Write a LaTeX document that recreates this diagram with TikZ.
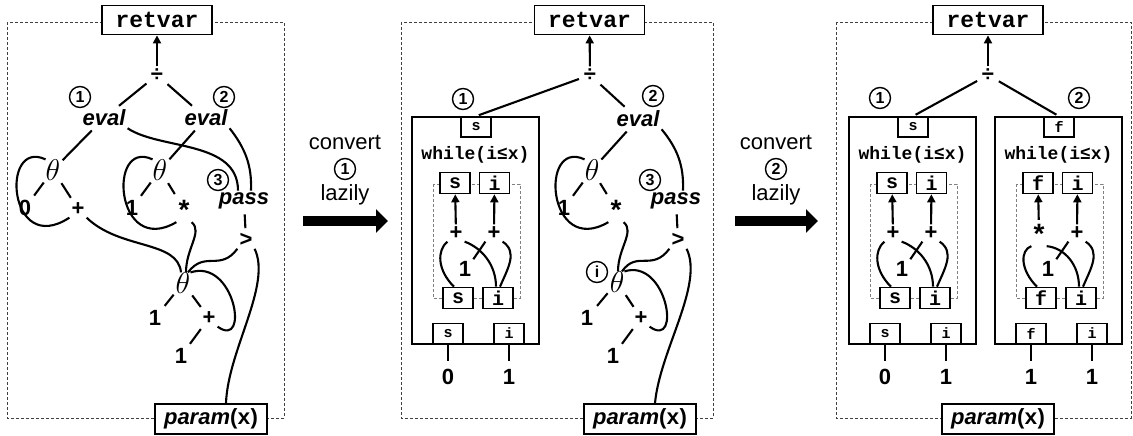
\RequirePackage{fix-cm}
\documentclass[tikz,border=0pt]{standalone}
\usepackage{fontspec}
\setmainfont{Liberation Sans}
\setmonofont{Liberation Mono}
\usetikzlibrary{positioning,arrows.meta,calc}

\newcommand{\opstar}{{\fontsize{28}{28}\selectfont\raisebox{-9pt}{\smash{*}}}\vphantom{+}}

\tikzset{
  op/.style={font=\bfseries\fontsize{22}{24}\selectfont, inner sep=2pt},
  fn/.style={font=\bfseries\itshape\fontsize{22}{24}\selectfont, inner sep=2pt},
  th/.style={font=\fontsize{30}{32}\selectfont, inner sep=0pt},
  numcirc/.style={circle, draw, line width=1.4pt, inner sep=0pt, minimum size=21pt, font=\bfseries\fontsize{16}{16}\selectfont},
  topbox/.style={draw, fill=white, line width=1.8pt, minimum width=110pt, minimum height=29pt, inner sep=0pt, font=\ttfamily\bfseries\fontsize{23}{24}\selectfont},
  parbox/.style={draw, fill=white, line width=1.8pt, minimum width=112pt, minimum height=30pt, inner sep=0pt, font=\bfseries\fontsize{22}{24}\selectfont},
  port/.style={draw, fill=white, line width=1.6pt, minimum width=30pt, minimum height=20pt, inner sep=0pt, font=\ttfamily\bfseries\fontsize{15}{15}\selectfont},
  varbox/.style={draw, fill=white, line width=1.6pt, minimum width=30pt, minimum height=21pt, inner sep=0pt, font=\ttfamily\bfseries\fontsize{20}{20}\selectfont},
  frame/.style={densely dashed, line width=0.9pt, black!75},
  inframe/.style={densely dashed, line width=0.8pt, gray},
  wire/.style={line width=2.1pt},
  tree/.style={line width=2.1pt, shorten <=3pt, shorten >=3pt},
  up/.style={line width=2.1pt, -{Triangle[length=8pt,width=8pt]}},
  bigarrow/.style={line width=10pt, -{Triangle[length=12pt,width=23pt]}},
  conv/.style={font=\fontsize{22}{24}\selectfont, inner sep=0pt}
}

% one loop box: name, left x, variable, operator, initial value
\newcommand{\loopbox}[5]{%
\begin{scope}[xshift=#2]
\node[draw, line width=1.8pt, minimum width=127pt, minimum height=227pt, inner sep=0pt] (#1box) at (63.5,230.5) {};
\node[port] (#1top) at (64,127) {#3};
\node[font=\ttfamily\bfseries\fontsize{18}{20}\selectfont, inner sep=0pt] (#1w) at (63.5,155) {while(i≤x)};
\draw[inframe] (21,184) rectangle (108,298);
\node[varbox] (#1ta) at (43,183) {#3};
\node[varbox] (#1tb) at (82.5,183) {i};
\node[op] (#1oa) at (44,233) {#4};
\node[op] (#1ob) at (82,233) {+};
\node[op] (#1one) at (53,269) {1};
\node[varbox] (#1ba) at (46,298) {#3};
\node[varbox] (#1bb) at (86,298) {i};
\draw[up] (#1oa) -- (#1ta);
\draw[up] (#1ob) -- (#1tb);
\draw[wire] ([xshift=-4pt]#1ba.north) .. controls (25,270) and (25,250) .. (#1oa.south west);
\draw[wire] ([xshift=-2pt]#1bb.north) .. controls (84,265) and (70,248) .. (#1oa.south east);
\draw[wire] ([xshift=2pt]#1bb.north) .. controls (96,268) and (106,252) .. (#1ob.south east);
\draw[wire] (#1one.north east) -- (#1ob.south west);
\node[port] (#1pa) at (36,333.5) {#3};
\node[port] (#1pb) at (97,333.5) {i};
\node[op] (#1va) at (36,377) {#5};
\node[op] (#1vb) at (97,377) {1};
\draw[wire, shorten >=6pt] (#1pa) -- (#1va);
\draw[wire, shorten >=6pt] (#1pb) -- (#1vb);
\end{scope}}

\begin{document}
\begin{tikzpicture}[x=1pt, y=-1pt]
\useasboundingbox (0,0) rectangle (1133,436);

% left graph
\draw[frame] (7,22) rectangle (284,418);
\node[topbox] (ret1) at (157,20) {retvar};
\node[op] (div1) at (157,75) {÷};
\node[numcirc] (n1a) at (80,97) {1};
\node[numcirc] (n1b) at (224,97) {2};
\node[fn] (ev1a) at (104,118) {eval};
\node[fn] (ev1b) at (206,118) {eval};
\node[th] (th1a) at (53,170) {$\theta$};
\node[th] (th1b) at (160,170) {$\theta$};
\node[numcirc] (n1c) at (218,180) {3};
\node[fn] (pass1) at (244,201) {pass};
\node[op] (zero1) at (25,208) {0};
\node[op] (plus1a) at (78,209) {+};
\node[op] (one1a) at (132,208) {1};
\node[op] (star1) at (184,209) {\opstar};
\node[op] (gt1) at (246,240) {>};
\node[th] (th1c) at (183,283) {$\theta$};
\node[op] (one1b) at (155,318) {1};
\node[op] (plus1b) at (209,318) {+};
\node[op] (one1c) at (181,356) {1};
\node[parbox] (par1) at (211,419) {\textit{param}(\texttt{x})};

\draw[up] (div1) -- (ret1);
\draw[tree] (div1) -- (ev1a);
\draw[tree] (div1) -- (ev1b);
\draw[tree] (ev1a) -- (th1a);
\draw[tree] (ev1b) -- (th1b);
\draw[tree] (th1a) -- (zero1);
\draw[tree] (th1a) -- (plus1a);
\draw[tree] (th1b) -- (one1a);
\draw[tree] (th1b) -- (star1);
\draw[tree] (th1c) -- (one1b);
\draw[tree] (th1c) -- (plus1b);
\draw[tree] (plus1b) -- (one1c);
\draw[tree] (pass1) -- (gt1);
\draw[wire] (th1a.north west) .. controls (0,138) and (8,258) .. (plus1a.south west);
\draw[wire] (th1b.north west) .. controls (107,138) and (115,258) .. (star1.south west);
\draw[wire] (ev1a.south east) .. controls (160,150) and (238,140) .. ([xshift=-6pt]pass1.north);
\draw[wire] (ev1b.south east) .. controls (245,148) and (252,165) .. ([xshift=7pt]pass1.north);
\draw[wire] (plus1a.south east) .. controls (120,250) and (178,240) .. ([xshift=-2pt]th1c.north);
\draw[wire] (star1.south east) .. controls (203,232) and (186,248) .. ([xshift=3pt]th1c.north);
\draw[wire] ([xshift=5pt]th1c.north) .. controls (205,250) and (220,272) .. (gt1.south west);
\draw[wire] (th1c.north east) .. controls (235,258) and (250,350) .. (plus1b.south east);
\draw[wire] (gt1.south east) .. controls (272,285) and (228,350) .. ([xshift=15pt]par1.north);

% first conversion
\coordinate (a1s) at (303,221);
\coordinate (a1e) at (388,221);
\draw[bigarrow] (a1s) -- (a1e);
\node[conv] (cv1) at (345,142) {convert};
\node[numcirc] (cn1) at (345,169) {1};
\node[conv] (lz1) at (345,195) {lazily};

% middle graph
\draw[frame] (401,22) rectangle (713,418);
\node[topbox] (ret2) at (589.5,20) {retvar};
\node[op] (div2) at (590,75) {÷};
\node[numcirc] (n2a) at (463,99) {1};
\loopbox{m}{412pt}{s}{+}{0}
\begin{scope}[xshift=432pt]
\node[numcirc] (n2b) at (221,96) {2};
\node[fn] (ev2b) at (206,119) {eval};
\node[th] (th2b) at (160,170) {$\theta$};
\node[numcirc] (n2c) at (218,180) {3};
\node[fn] (pass2) at (244,201) {pass};
\node[op] (one2a) at (132,208) {1};
\node[op] (star2) at (184,209) {\opstar};
\node[op] (gt2) at (246,240) {>};
\node[numcirc] (n2i) at (165,272) {i};
\node[th] (th2c) at (185,282) {$\theta$};
\node[op] (one2b) at (155,318) {1};
\node[op] (plus2b) at (209,318) {+};
\node[op] (one2c) at (181,356) {1};
\node[parbox] (par2) at (208,419) {\textit{param}(\texttt{x})};
\draw[tree] (ev2b) -- (th2b);
\draw[tree] (th2b) -- (one2a);
\draw[tree] (th2b) -- (star2);
\draw[tree] (th2c) -- (one2b);
\draw[tree] (th2c) -- (plus2b);
\draw[tree] (plus2b) -- (one2c);
\draw[tree] (pass2) -- (gt2);
\draw[wire] (th2b.north west) .. controls (107,138) and (115,258) .. (star2.south west);
\draw[wire] (ev2b.south east) .. controls (245,148) and (252,165) .. ([xshift=7pt]pass2.north);
\draw[wire] (star2.south east) .. controls (203,232) and (186,248) .. ([xshift=1pt]th2c.north);
\draw[wire] ([xshift=5pt]th2c.north) .. controls (205,250) and (220,272) .. (gt2.south west);
\draw[wire] (th2c.north east) .. controls (235,258) and (250,350) .. (plus2b.south east);
\draw[wire] (gt2.south east) .. controls (272,285) and (228,350) .. ([xshift=15pt]par2.north);
\end{scope}
\draw[up] (div2) -- (ret2);
\draw[tree] (div2) -- (mtop.north);
\draw[tree] (div2) -- (ev2b);

% second conversion
\coordinate (a2s) at (735,221);
\coordinate (a2e) at (818,221);
\draw[bigarrow] (a2s) -- (a2e);
\node[conv] (cv2) at (776,142) {convert};
\node[numcirc] (cn2) at (776,169) {2};
\node[conv] (lz2) at (776,195) {lazily};

% right graph
\draw[frame] (836,22) rectangle (1131,418);
\node[topbox] (ret3) at (988,20) {retvar};
\node[op] (div3) at (988,75) {÷};
\node[numcirc] (n3a) at (880,98) {1};
\node[numcirc] (n3b) at (1079,98) {2};
\loopbox{ra}{849pt}{s}{+}{0}
\loopbox{rb}{995pt}{f}{\opstar}{1}
\node[parbox] (par3) at (998,419) {\textit{param}(\texttt{x})};
\draw[up] (div3) -- (ret3);
\draw[tree] (div3) -- (ratop.north);
\draw[tree] (div3) -- (rbtop.north);
\end{tikzpicture}
\end{document}
